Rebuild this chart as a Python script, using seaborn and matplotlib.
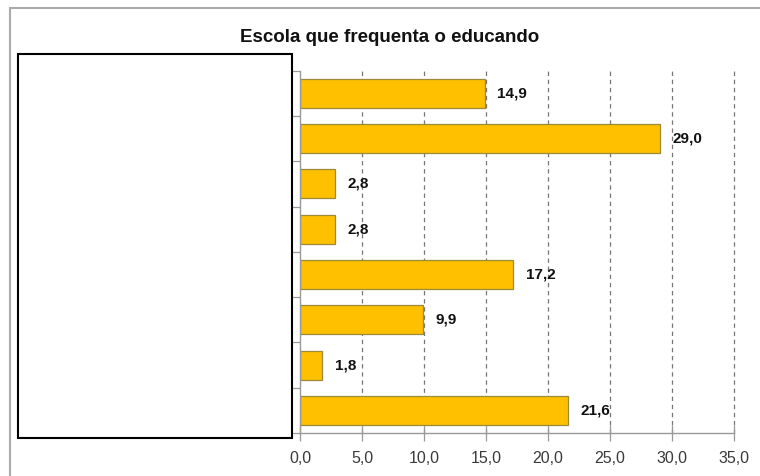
import matplotlib
matplotlib.use("Agg")
import matplotlib.pyplot as plt
from matplotlib.patches import Rectangle
from matplotlib import font_manager
import numpy as np
import pandas as pd
import seaborn as sns

# Percentages per school category (category names are masked in the chart)
positions = ["1", "2", "3", "4", "5", "6", "7", "8"]
percentages = [14.9, 29.0, 2.8, 2.8, 17.2, 9.9, 1.8, 21.6]
x_ticks = [0, 5, 10, 15, 20, 25, 30, 35]
x_tick_labels = ["0,0", "5,0", "10,0", "15,0", "20,0", "25,0", "30,0", "35,0"]
title = "Escola que frequenta o educando"

sns.set_theme(style="white")
names = {f.name for f in font_manager.fontManager.ttflist}
narrow = "Liberation Sans Narrow" if "Liberation Sans Narrow" in names else "Liberation Sans"
plt.rcParams["font.family"] = [narrow, "DejaVu Sans"]

df = pd.DataFrame({"pos": positions, "pct": percentages})

fig = plt.figure(figsize=(7.6, 4.76), dpi=100)
ax = fig.add_axes([300 / 760, 1 - 433 / 476, 434 / 760, (433 - 70.7) / 476])

sns.barplot(data=df, x="pct", y="pos", orient="h", color="#FFC000",
            saturation=1, width=0.64, edgecolor="#9C8A3A", linewidth=0.9, ax=ax)

ax.set_xlim(0, 35)
ax.set_ylim(len(positions) - 0.5, -0.5)
ax.set_xticks(x_ticks)
ax.set_xticklabels(x_tick_labels, fontsize=11.5, color="#3A3A3A")
ax.set_yticks(np.arange(-0.5, len(positions), 1.0))
ax.set_yticklabels([])
ax.set_xlabel("")
ax.set_ylabel("")

for x in x_ticks[1:]:
    ax.axvline(x, color="#777777", linestyle=(0, (3.5, 3)), linewidth=0.9,
               zorder=0, clip_on=False)

for s in ["top", "right"]:
    ax.spines[s].set_visible(False)
for s in ["left", "bottom"]:
    ax.spines[s].set_color("#999999")
    ax.spines[s].set_linewidth(1.0)

ax.tick_params(axis="y", direction="out", length=7, width=0.9, color="#999999", left=True)
ax.tick_params(axis="x", direction="inout", length=12, width=0.9, color="#999999",
               bottom=True, pad=7)

for bar, v in zip(ax.patches, percentages):
    y = bar.get_y() + bar.get_height() / 2
    ax.annotate(f"{v:.1f}".replace(".", ","), xy=(v, y), xytext=(9, 0),
                textcoords="offset points", va="center", ha="left",
                fontsize=11, fontweight="bold", color="#111111")

fig.text(390 / 760, 1 - 37 / 476, title, ha="center", va="center",
         fontsize=13.5, fontweight="bold", color="#111111")

# Outer frame and label mask box
fig.patches.append(Rectangle((9.5 / 760, -0.1), 1.0, 1 - 7.5 / 476 + 0.1,
                             transform=fig.transFigure, fill=False,
                             edgecolor="#AAAAAA", linewidth=1.5))
fig.patches.append(Rectangle((17.5 / 760, 1 - 438 / 476), (292 - 17.5) / 760,
                             (438 - 54) / 476, transform=fig.transFigure,
                             facecolor="white", edgecolor="black", linewidth=1.5,
                             zorder=10))

fig.savefig("out.png", dpi=100)
